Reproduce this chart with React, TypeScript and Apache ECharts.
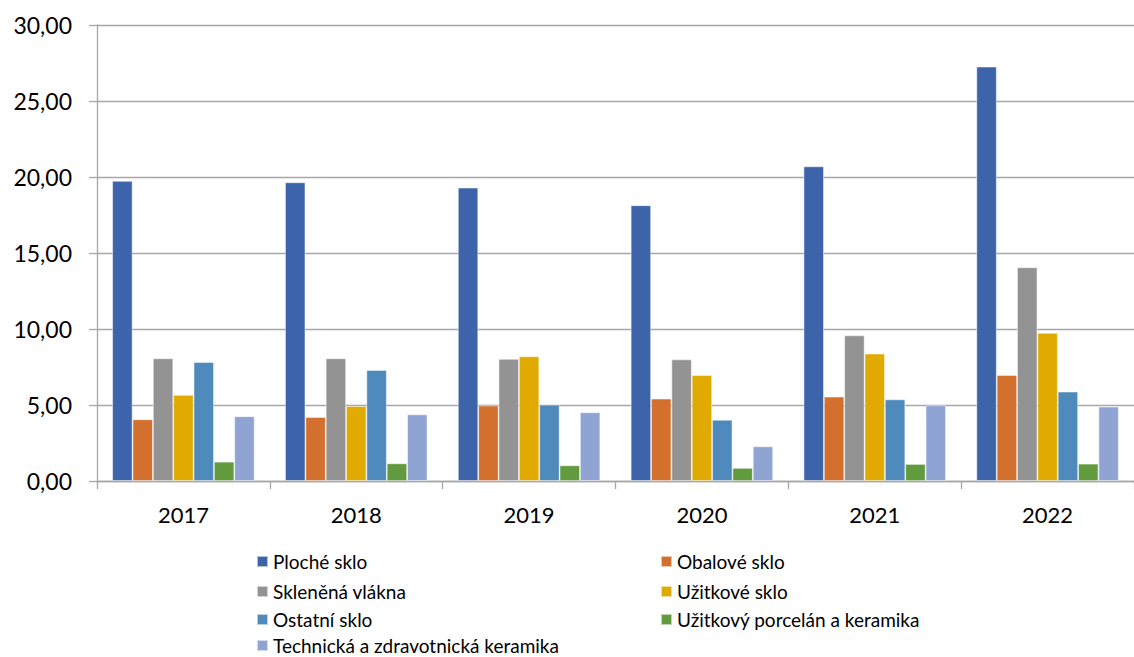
import React, { useEffect, useRef } from "react";
import * as echarts from "echarts";

const years = ["2017", "2018", "2019", "2020", "2021", "2022"];

const seriesNames = [
  "Ploché sklo",
  "Obalové sklo",
  "Skleněná vlákna",
  "Užitkové sklo",
  "Ostatní sklo",
  "Užitkový porcelán a keramika",
  "Technická a zdravotnická keramika",
];

const plocheSklo = [19.74, 19.65, 19.3, 18.14, 20.7, 27.26];
const obaloveSklo = [4.06, 4.21, 4.96, 5.42, 5.55, 6.97];
const sklenenaVlakna = [8.07, 8.07, 8.03, 8.0, 9.58, 14.06];
const uzitkoveSklo = [5.66, 4.93, 8.2, 6.97, 8.38, 9.74];
const ostatniSklo = [7.83, 7.3, 5.02, 4.03, 5.37, 5.88];
const porcelanKeramika = [1.27, 1.16, 1.03, 0.86, 1.12, 1.14];
const technickaKeramika = [4.26, 4.38, 4.52, 2.28, 4.98, 4.89];

const seriesValues = [
  plocheSklo,
  obaloveSklo,
  sklenenaVlakna,
  uzitkoveSklo,
  ostatniSklo,
  porcelanKeramika,
  technickaKeramika,
];

const colors = [
  "#3D64AA",
  "#D3702D",
  "#939393",
  "#E0AA00",
  "#4F8ABD",
  "#629A3E",
  "#90A4D4",
];

const yTicks = { min: 0, max: 30, interval: 5 };

const FONT = "Lato, 'Noto Sans', sans-serif";

const legendRowCenters = [561, 591, 619, 645];

export default function App() {
  const ref = useRef<HTMLDivElement>(null);

  useEffect(() => {
    if (!ref.current) return;
    const chart = echarts.init(ref.current, undefined, { renderer: "svg" });
    const legendText = {
      color: "#000",
      fontSize: 19,
      lineHeight: 18,
      fontFamily: FONT,
    };
    const legends = seriesNames.map((name, i) => {
      const col = i % 2;
      const row = Math.floor(i / 2);
      return {
        orient: "horizontal",
        left: col === 0 ? 256 : 660,
        top: legendRowCenters[row] - 9,
        padding: 0,
        itemWidth: 11,
        itemHeight: 11,
        itemGap: 6,
        icon: "rect",
        textStyle: legendText,
        data: [name],
      };
    });
    chart.setOption({
      animation: false,
      color: colors,
      grid: { left: 97, top: 25, width: 1050, height: 456, containLabel: false },
      legend: legends,
      xAxis: {
        type: "category",
        data: years,
        boundaryGap: true,
        axisLine: { show: true, lineStyle: { color: "#a6a6a6", width: 1.3 } },
        axisTick: {
          show: true,
          length: 8,
          lineStyle: { color: "#a6a6a6", width: 1.3 },
        },
        axisLabel: {
          color: "#000",
          fontSize: 22,
          fontFamily: FONT,
          margin: 22,
        },
      },
      yAxis: {
        type: "value",
        min: yTicks.min,
        max: yTicks.max,
        interval: yTicks.interval,
        axisLine: { show: true, lineStyle: { color: "#a6a6a6", width: 1.3 } },
        axisTick: {
          show: true,
          length: 8,
          lineStyle: { color: "#a6a6a6", width: 1.3 },
        },
        splitLine: { show: true, lineStyle: { color: "#a6a6a6", width: 1.3 } },
        axisLabel: {
          color: "#000",
          fontSize: 23,
          fontFamily: FONT,
          margin: 25,
          formatter: (v: number) => v.toFixed(2).replace(".", ","),
        },
      },
      series: seriesNames.map((name, i) => ({
        name,
        type: "bar",
        data: seriesValues[i],
        barGap: "0%",
        barCategoryGap: "17.6%",
        itemStyle: {
          color: colors[i],
          borderColor: "rgba(255,255,255,0.6)",
          borderWidth: 0.8,
        },
      })),
    });
    return () => chart.dispose();
  }, []);

  return (
    <div
      ref={ref}
      style={{
        position: "absolute",
        left: 0,
        top: 0,
        width: 1134,
        height: 657,
        background: "#fff",
      }}
    />
  );
}
